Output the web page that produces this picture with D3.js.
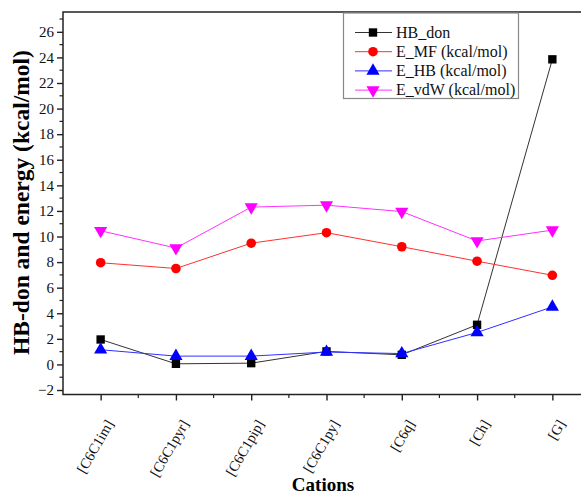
<!DOCTYPE html>
<html>
<head>
<meta charset="utf-8">
<script src="https://cdn.jsdelivr.net/npm/d3@7"></script>
<style>
  body { margin: 0; background: #fff; }
  svg text { font-family: "Liberation Serif", "DejaVu Serif", serif; }
</style>
</head>
<body>
<script>
const cations = ["[C6C1im]", "[C6C1pyr]", "[C6C1pip]", "[C6C1py]", "[C6q]", "[Ch]", "[G]"];
const hbDon = [1.95, 0.05, 0.1, 1.02, 0.75, 3.1, 23.85];
const eMF = [7.95, 7.5, 9.48, 10.3, 9.2, 8.07, 6.97];
const eHB = [1.15, 0.65, 0.65, 0.97, 0.85, 2.5, 4.5];
const eVdW = [10.45, 9.1, 12.3, 12.45, 11.95, 9.65, 10.5];
const yTicks = [-2, 0, 2, 4, 6, 8, 10, 12, 14, 16, 18, 20, 22, 24, 26];

const serif = "Liberation Serif";

const series = [
  { name: "HB_don", values: hbDon, color: "#000000", line: "#333333", shape: d3.symbolSquare, size: 70, rot: 0 },
  { name: "E_MF (kcal/mol)", values: eMF, color: "#ff0000", line: "#ff3030", shape: d3.symbolCircle, size: 72, rot: 0 },
  { name: "E_HB (kcal/mol)", values: eHB, color: "#0000ff", line: "#3030ff", shape: d3.symbolTriangle, size: 75, rot: 0 },
  { name: "E_vdW (kcal/mol)", values: eVdW, color: "#ff00ff", line: "#ff30ff", shape: d3.symbolTriangle, size: 75, rot: 180 }
];

const width = 581, height = 494;
const margin = { left: 63, top: 12, right: -9, bottom: 99.5 };

const svg = d3.select("body").append("svg")
  .attr("width", width)
  .attr("height", height);

const x = d3.scaleLinear()
  .domain([-0.5, 6.5])
  .range([margin.left, width - margin.right]);
const y = d3.scaleLinear()
  .domain([-2.35, 27.55])
  .range([height - margin.bottom, margin.top]);

const plotB = height - margin.bottom;

// minor ticks
const yMinor = d3.range(-2, 28, 1).filter(v => v % 2 !== 0);
svg.append("g").selectAll("line").data(yMinor).enter().append("line")
  .attr("x1", margin.left).attr("x2", margin.left - 3.5)
  .attr("y1", d => y(d)).attr("y2", d => y(d))
  .attr("stroke", "#222").attr("stroke-width", 1.2);
const xMinor = d3.range(0.5, 6.5, 1);
svg.append("g").selectAll("line").data(xMinor).enter().append("line")
  .attr("y1", plotB).attr("y2", plotB + 3.5)
  .attr("x1", d => x(d)).attr("x2", d => x(d))
  .attr("stroke", "#222").attr("stroke-width", 1.2);

// axes
const yAxis = d3.axisLeft(y).tickValues(yTicks).tickSize(6).tickPadding(3);
const gy = svg.append("g")
  .attr("transform", "translate(" + margin.left + ",0)")
  .call(yAxis)
  .attr("font-family", serif)
  .attr("font-size", 15);
gy.select(".domain").remove();
gy.selectAll(".tick line").attr("stroke", "#222").attr("stroke-width", 1.4);
gy.selectAll(".tick text").attr("fill", "#111");

const xAxis = d3.axisBottom(x).tickValues(d3.range(0, 7)).tickSize(6)
  .tickFormat(i => cations[i]);
const gx = svg.append("g")
  .attr("transform", "translate(0," + plotB + ")")
  .call(xAxis)
  .attr("font-family", serif)
  .attr("font-size", 14.5);
gx.select(".domain").remove();
gx.selectAll(".tick line").attr("stroke", "#222").attr("stroke-width", 1.4);
gx.selectAll(".tick text")
  .attr("fill", "#111")
  .attr("text-anchor", "end")
  .attr("x", 0).attr("y", 0).attr("dy", 0)
  .attr("transform", "translate(13,29) rotate(-60)");

// frame
svg.append("rect")
  .attr("x", margin.left).attr("y", margin.top)
  .attr("width", x(6.5) - margin.left).attr("height", plotB - margin.top)
  .attr("fill", "none").attr("stroke", "#222").attr("stroke-width", 1.5);

// series
const line = d3.line().x((d, i) => x(i)).y(d => y(d));
series.forEach(s => {
  svg.append("path")
    .datum(s.values)
    .attr("d", line)
    .attr("fill", "none")
    .attr("stroke", s.line)
    .attr("stroke-width", 1);
});
series.forEach(s => {
  svg.append("g").selectAll("path").data(s.values).enter().append("path")
    .attr("d", d3.symbol().type(s.shape).size(s.size))
    .attr("transform", (d, i) => "translate(" + x(i) + "," + y(d) + ") rotate(" + s.rot + ")")
    .attr("fill", s.color);
});

// legend
const lg = svg.append("g");
lg.append("rect")
  .attr("x", 343.5).attr("y", 13).attr("width", 175).attr("height", 85.5)
  .attr("fill", "#fff").attr("stroke", "#888").attr("stroke-width", 1.2);
series.forEach((s, i) => {
  const ly = 32.5 + i * 19.2;
  lg.append("line").attr("x1", 355).attr("x2", 392).attr("y1", ly).attr("y2", ly)
    .attr("stroke", s.line).attr("stroke-width", 1);
  lg.append("path")
    .attr("d", d3.symbol().type(s.shape).size(s.size))
    .attr("transform", "translate(373," + ly + ") rotate(" + s.rot + ")")
    .attr("fill", s.color);
  lg.append("text").attr("x", 396).attr("y", ly + 5)
    .attr("font-family", serif)
    .attr("font-size", 16).attr("fill", "#111").text(s.name);
});

// axis titles
svg.append("text")
  .attr("x", 323).attr("y", 491)
  .attr("text-anchor", "middle")
  .attr("font-family", serif)
  .attr("font-size", 19).attr("font-weight", "bold")
  .text("Cations");
svg.append("text")
  .attr("transform", "translate(29,202.5) rotate(-90)")
  .attr("text-anchor", "middle")
  .attr("font-family", serif)
  .attr("font-size", 23.5).attr("font-weight", "bold")
  .text("HB-don and energy (kcal/mol)");
</script>
</body>
</html>
